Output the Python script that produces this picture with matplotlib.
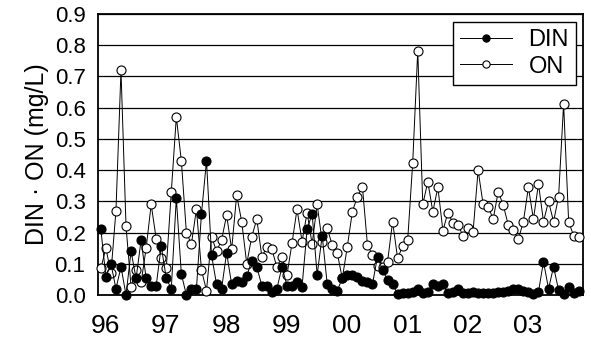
import numpy as np
import matplotlib
matplotlib.use("Agg")
import matplotlib.pyplot as plt

plt.rcParams['font.family'] = ['Liberation Sans', 'DejaVu Sans']

# monthly samples, Jan 1996 .. Dec 2003
month = np.arange(96)

din = [0.21, 0.057, 0.10, 0.02, 0.09, 0.0, 0.14, 0.053, 0.176, 0.053, 0.03, 0.03,
       0.157, 0.053, 0.02, 0.31, 0.067, 0.0, 0.02, 0.02, 0.26, 0.43, 0.128, 0.034,
       0.02, 0.135, 0.034, 0.046, 0.04, 0.06, 0.11, 0.09, 0.03, 0.03, 0.01, 0.02,
       0.09, 0.03, 0.03, 0.043, 0.027, 0.21, 0.26, 0.064, 0.19, 0.035, 0.02, 0.014,
       0.053, 0.064, 0.064, 0.057, 0.046, 0.04, 0.035, 0.123, 0.08, 0.048, 0.035, 0.003,
       0.005, 0.007, 0.01, 0.02, 0.005, 0.01, 0.035, 0.03, 0.035, 0.005, 0.01, 0.02,
       0.007, 0.005, 0.008, 0.006, 0.005, 0.007, 0.006, 0.008, 0.01, 0.012, 0.02, 0.02,
       0.014, 0.01, 0.003, 0.01, 0.107, 0.02, 0.09, 0.016, 0.003, 0.025, 0.005, 0.014]

on = [0.085, 0.15, 0.07, 0.27, 0.72, 0.22, 0.027, 0.08, 0.04, 0.15, 0.29, 0.18,
      0.12, 0.085, 0.33, 0.57, 0.43, 0.20, 0.163, 0.275, 0.08, 0.014, 0.187, 0.14,
      0.176, 0.256, 0.146, 0.32, 0.235, 0.10, 0.187, 0.243, 0.123, 0.153, 0.146, 0.089,
      0.123, 0.064, 0.166, 0.275, 0.171, 0.264, 0.163, 0.29, 0.171, 0.214, 0.16, 0.134,
      0.053, 0.155, 0.267, 0.315, 0.347, 0.16, 0.128, 0.093, 0.089, 0.107, 0.235, 0.117,
      0.157, 0.176, 0.424, 0.783, 0.29, 0.363, 0.267, 0.345, 0.206, 0.264, 0.23, 0.224,
      0.19, 0.214, 0.203, 0.40, 0.29, 0.283, 0.243, 0.331, 0.288, 0.224, 0.208, 0.178,
      0.235, 0.345, 0.243, 0.356, 0.235, 0.30, 0.235, 0.315, 0.612, 0.235, 0.189, 0.185]

year_labels = ['96', '97', '98', '99', '00', '01', '02', '03']

fig = plt.figure(figsize=(5.91, 3.43), dpi=100)
ax = fig.add_axes([0.166, 0.140, 0.820, 0.819])

ax.plot(month, on, '-o', color='black', lw=0.7, ms=6.5, mfc='white', mec='black',
        mew=0.8, label='ON', zorder=3, clip_on=False)
ax.plot(month, din, '-o', color='black', lw=0.7, ms=6.5, mfc='black', mec='black',
        mew=0.8, label='DIN', zorder=4, clip_on=False)

ax.set_xlim(-0.55, 95.8)
ax.set_ylim(0, 0.9)
ax.set_yticks(np.arange(0, 0.91, 0.1))
ax.set_yticklabels([f"{v:.1f}" for v in np.arange(0, 0.91, 0.1)], fontsize=16)
ax.set_xticks(np.arange(8) * 12 + 0.9)
ax.set_xticklabels(year_labels, fontsize=19)
ax.tick_params(axis='x', length=0, pad=14)
ax.tick_params(axis='y', length=0, pad=9)

ax.yaxis.grid(True, color='black', lw=0.9)
ax.set_axisbelow(True)
for s in ax.spines.values():
    s.set_linewidth(1.3)

ax.set_ylabel("DIN · ON (mg/L)", fontsize=18, labelpad=4)

handles, labels = ax.get_legend_handles_labels()
leg = ax.legend(handles[::-1], labels[::-1], loc='upper right',
                bbox_to_anchor=(0.986, 0.972), borderaxespad=0, fontsize=17,
                fancybox=False, edgecolor='black', framealpha=1,
                handlelength=2.2, labelspacing=0.2, borderpad=0.3, handletextpad=0.7,
                markerscale=0.8)
leg.get_frame().set_linewidth(1.0)

fig.savefig("out.png", dpi=100)
